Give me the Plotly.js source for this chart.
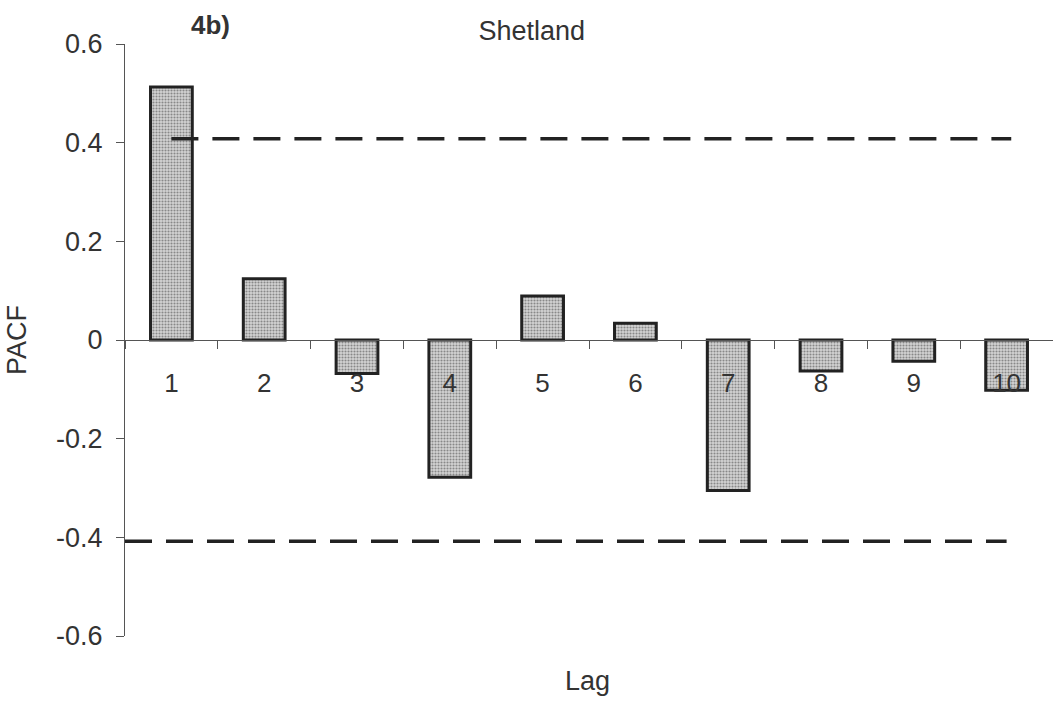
<!DOCTYPE html>
<html>
<head>
<meta charset="utf-8">
<script src="https://cdn.plot.ly/plotly-3.0.1.min.js"></script>
<style>html,body{margin:0;padding:0;background:#fff;}</style>
</head>
<body>
<div id="chart" style="width:1053px;height:701px;"></div>
<script>
const lags = ['1','2','3','4','5','6','7','8','9','10'];
const pacf = [0.513, 0.124, -0.068, -0.278, 0.089, 0.034, -0.305, -0.063, -0.043, -0.102];
const upperBound = 0.408;
const lowerBound = -0.408;
const upperLineX = [1, 10.05];
const lowerLineX = [0.5, 10];
const yTickVals = [-0.6, -0.4, -0.2, 0, 0.2, 0.4, 0.6];
const yTickText = ['-0.6', '-0.4', '-0.2', '0', '0.2', '0.4', '0.6'];

const FONT = 'Liberation Sans, Arial, sans-serif';
const INK = '#333';

const traces = [
  {
    type: 'bar',
    x: lags,
    y: pacf,
    width: 0.45,
    marker: {
      color: '#c4c4c4',
      pattern: {shape: '.', bgcolor: '#d4d4d4', fgcolor: '#888', size: 3, solidity: 0.4},
      line: {color: '#222', width: 3}
    },
    hoverinfo: 'x+y'
  },
  {
    type: 'scatter', mode: 'lines', xaxis: 'x2',
    x: upperLineX, y: [upperBound, upperBound],
    line: {color: '#222', width: 3.5, dash: '27px,14px'}
  },
  {
    type: 'scatter', mode: 'lines', xaxis: 'x2',
    x: lowerLineX, y: [lowerBound, lowerBound],
    line: {color: '#222', width: 3.5, dash: '27px,14px'}
  }
];

const layout = {
  width: 1053, height: 701,
  margin: {l: 125, r: 0, t: 44, b: 65, pad: 0},
  paper_bgcolor: '#fff', plot_bgcolor: '#fff',
  showlegend: false,
  font: {family: FONT, color: INK, size: 26},
  title: {
    text: 'Shetland',
    font: {family: FONT, size: 27, color: INK},
    xref: 'container', x: 0.505, xanchor: 'center',
    yref: 'container', y: 1 - 31/701, yanchor: 'middle'
  },
  xaxis: {
    type: 'category',
    range: [-0.5, 9.5],
    anchor: 'free', position: 0.5,
    showline: true, linecolor: '#555', linewidth: 1,
    ticks: 'outside', tickson: 'boundaries', ticklen: 8, tickcolor: '#555', tickwidth: 1,
    tickfont: {family: FONT, size: 26, color: INK},
    ticklabelstandoff: 20,
    showgrid: false, zeroline: false, fixedrange: true
  },
  xaxis2: {
    overlaying: 'x', range: [0.5, 10.5], visible: false, fixedrange: true
  },
  yaxis: {
    range: [-0.6, 0.6],
    tickvals: yTickVals, ticktext: yTickText,
    showline: true, linecolor: '#555', linewidth: 1,
    ticks: 'outside', ticklen: 8, tickcolor: '#555', tickwidth: 1,
    tickfont: {family: FONT, size: 27, color: INK},
    ticklabelstandoff: 8,
    showgrid: false, zeroline: false, fixedrange: true
  },
  annotations: [
    {text: '<b>4b)</b>', xref: 'paper', yref: 'paper', x: (210-125)/928, y: (636-25)/592,
     showarrow: false, font: {family: FONT, size: 26, color: INK}, xanchor: 'center', yanchor: 'middle'},
    {text: 'PACF', xref: 'paper', yref: 'paper', x: (17-125)/928, y: 0.5, textangle: -90,
     showarrow: false, font: {family: FONT, size: 27, color: INK}, xanchor: 'center', yanchor: 'middle'},
    {text: 'Lag', xref: 'paper', yref: 'paper', x: (587-125)/928, y: (636-681)/592,
     showarrow: false, font: {family: FONT, size: 27, color: INK}, xanchor: 'center', yanchor: 'middle'}
  ]
};

Plotly.newPlot('chart', traces, layout, {displayModeBar: false});
</script>
</body>
</html>
